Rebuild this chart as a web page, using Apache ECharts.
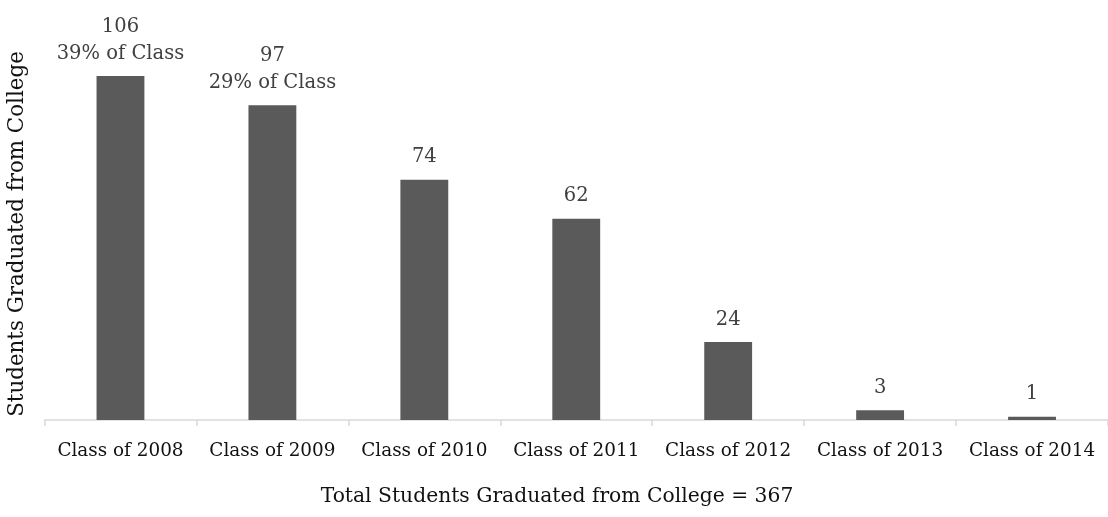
<!DOCTYPE html>
<html><head><meta charset="utf-8">
<script src="https://cdn.jsdelivr.net/npm/echarts@6/dist/echarts.min.js"></script>
<style>html,body{margin:0;padding:0;background:#fff}#c{width:1108px;height:517px}</style>
</head><body><div id="c"></div>
<script>
const categories = ["Class of 2008","Class of 2009","Class of 2010","Class of 2011","Class of 2012","Class of 2013","Class of 2014"];
const graduated = [106, 97, 74, 62, 24, 3, 1];
const classShare = ["39% of Class", "29% of Class", "", "", "", "", ""];
const yAxisTitle = "Students Graduated from College";
const xAxisTitle = "Total Students Graduated from College = 367";

const FONT = "DejaVu Serif";
const chart = echarts.init(document.getElementById('c'), null, {renderer: 'canvas'});
chart.setOption({
  animation: false,
  grid: {left: 44.5, right: 0, top: 30.6, bottom: 97, outerBoundsMode: 'none', containLabel: false},
  xAxis: {
    type: 'category',
    data: categories,
    axisLine: {lineStyle: {color: '#d9d9d9', width: 1.5}},
    axisTick: {show: true, length: 6, interval: 0, lineStyle: {color: '#d9d9d9', width: 1.5}},
    axisLabel: {color: '#111111', fontFamily: FONT, fontSize: 18.4, margin: 22, interval: 0, hideOverlap: false}
  },
  yAxis: {
    type: 'value',
    min: 0, max: 120,
    axisLine: {show: false},
    axisTick: {show: false},
    axisLabel: {show: false},
    splitLine: {show: false}
  },
  graphic: [
    {type: 'text', x: 17, y: 234, rotation: Math.PI / 2,
     style: {text: yAxisTitle, fill: '#111111', font: '21.4px "DejaVu Serif"', align: 'center', verticalAlign: 'middle'}},
    {type: 'text', x: 557, y: 497,
     style: {text: xAxisTitle, fill: '#111111', font: '20.3px "DejaVu Serif"', align: 'center', verticalAlign: 'middle'}}
  ],
  series: [{
    type: 'bar',
    data: graduated,
    barWidth: '31.5%',
    itemStyle: {color: '#5a5a5a'},
    label: {
      show: true,
      position: 'top',
      distance: 9,
      color: '#404040',
      fontFamily: FONT,
      fontSize: 19.5,
      lineHeight: 27,
      formatter: p => classShare[p.dataIndex] ? p.value + '\n' + classShare[p.dataIndex] : String(p.value)
    }
  }]
});
</script></body></html>
